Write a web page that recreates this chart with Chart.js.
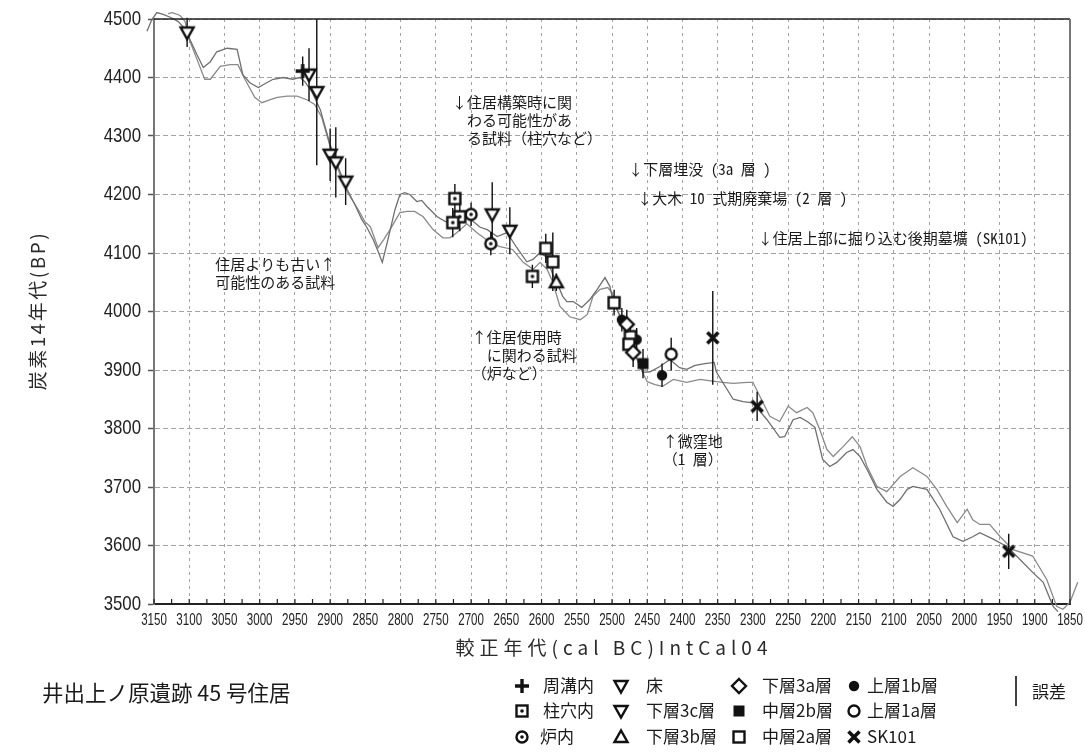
<!DOCTYPE html>
<html>
<head>
<meta charset="utf-8">
<script src="https://cdn.jsdelivr.net/npm/chart.js@4.4.0/dist/chart.umd.min.js"></script>
<style>
  html, body { margin: 0; background: #fff; }
  #wrap { width: 1086px; height: 753px; }
</style>
</head>
<body>
<div id="wrap"><canvas id="chart" width="1086" height="753"></canvas></div>
<script>
// IntCal04 calibration band, two edges as [cal BC, BP]
const curveUpper = [
  [3160,4479],[3153,4499],[3146,4511],[3137,4508],[3127,4503],[3116,4496],[3105,4482],[3099,4465],
  [3089,4439],[3080,4417],[3070,4427],[3061,4444],[3046,4450],[3032,4448],[3024,4405],[3014,4391],
  [3002,4383],[2990,4391],[2981,4397],[2967,4400],[2953,4397],[2943,4400],[2936,4393],[2926,4376],
  [2914,4345],[2900,4285],[2886,4239],[2876,4209],[2865,4183],[2855,4157],[2848,4144],[2839,4123],
  [2832,4103],[2826,4084],[2818,4123],[2808,4174],[2801,4200],[2794,4203],[2787,4200],[2777,4188],
  [2770,4190],[2763,4180],[2748,4162],[2737,4154],[2726,4152],[2716,4157],[2706,4162],[2697,4154],
  [2687,4144],[2677,4140],[2663,4128],[2649,4135],[2635,4109],[2621,4085],[2612,4089],[2602,4101],
  [2592,4092],[2584,4063],[2577,4046],[2570,4026],[2564,4017],[2555,4017],[2543,4007],[2531,4021],
  [2521,4038],[2510,4058],[2503,4043],[2499,4021],[2492,4000],[2482,3978],[2472,3944],[2463,3915],
  [2456,3896],[2446,3897],[2432,3906],[2418,3918],[2404,3904],[2394,3901],[2382,3908],[2368,3911],
  [2355,3913],[2352,3897],[2343,3879],[2328,3850],[2314,3846],[2300,3844],[2280,3815],[2262,3785],
  [2255,3786],[2243,3815],[2233,3819],[2223,3812],[2212,3802],[2201,3747],[2191,3735],[2181,3742],
  [2167,3759],[2158,3764],[2148,3752],[2138,3730],[2124,3696],[2110,3674],[2101,3667],[2091,3679],
  [2081,3696],[2073,3701],[2053,3696],[2035,3662],[2016,3615],[2002,3607],[1988,3615],[1978,3622],
  [1959,3611],[1939,3598],[1921,3576],[1903,3554],[1888,3537],[1874,3496],[1867,3487]
];
const curveLower = [
  [3130,4509],[3124,4511],[3113,4506],[3106,4496],[3099,4462],[3089,4431],[3078,4397],[3070,4397],
  [3056,4419],[3042,4422],[3031,4422],[3021,4397],[3007,4366],[2997,4357],[2985,4362],[2975,4366],
  [2961,4368],[2947,4368],[2933,4362],[2922,4354],[2912,4332],[2900,4282],[2886,4234],[2876,4205],
  [2869,4191],[2860,4174],[2851,4154],[2843,4145],[2832,4109],[2824,4123],[2815,4140],[2801,4169],
  [2791,4171],[2780,4171],[2768,4162],[2754,4140],[2740,4126],[2730,4126],[2720,4135],[2706,4150],
  [2692,4135],[2673,4118],[2659,4111],[2641,4106],[2626,4084],[2612,4072],[2602,4084],[2592,4072],
  [2584,4050],[2574,4009],[2560,3991],[2545,3986],[2535,3995],[2527,4026],[2517,4038],[2506,4041],
  [2500,4032],[2492,4003],[2482,3969],[2470,3935],[2460,3904],[2450,3880],[2439,3875],[2428,3872],
  [2413,3884],[2394,3879],[2375,3884],[2357,3881],[2343,3879],[2328,3877],[2308,3879],[2300,3879],
  [2293,3862],[2276,3821],[2262,3812],[2250,3838],[2238,3827],[2223,3836],[2215,3827],[2205,3798],
  [2195,3764],[2186,3752],[2172,3769],[2159,3786],[2148,3769],[2138,3735],[2124,3701],[2110,3692],
  [2091,3718],[2073,3733],[2053,3718],[2039,3696],[2025,3667],[2010,3639],[1996,3662],[1988,3644],
  [1978,3636],[1964,3636],[1949,3615],[1931,3593],[1903,3582],[1883,3542],[1869,3496],[1860,3491],
  [1850,3503],[1839,3537]
];

// sample categories and their legend symbols
const categories = ['周溝内','柱穴内','炉内','床','下層3c層','下層3b層','下層3a層','中層2b層','中層2a層','上層1b層','上層1a層','SK101'];
const categorySymbol = ['plus','sqdot','cdot','tdown','tdown','tup','diamond','sqfill','sq','disc','ring','cross'];

// dated samples: category, cal BC, 14C BP, error
const sampleCat  = ['床','周溝内','床','床','床','床','床',
                    '柱穴内','柱穴内','柱穴内','炉内','下層3c層','炉内','下層3c層','柱穴内',
                    '中層2a層','中層2a層','下層3b層','中層2a層','上層1b層','下層3a層','中層2a層',
                    '上層1b層','中層2a層','下層3a層','中層2b層','上層1b層','上層1a層',
                    'SK101','SK101','SK101'];
const sampleYear = [3103,2939,2930,2919,2900,2892,2878,
                    2723,2716,2726,2700,2670,2672,2645,2613,
                    2594,2584,2579,2497,2486,2479,2474,
                    2465,2476,2470,2456,2429,2416,
                    2357,2294,1937];
const sampleBP   = [4477,4411,4405,4375,4268,4255,4222,
                    4193,4162,4152,4166,4166,4116,4138,4060,
                    4108,4085,4050,4015,3986,3978,3957,
                    3952,3944,3930,3911,3891,3927,
                    3955,3838,3590];
const sampleErr  = [25,25,45,125,45,60,40,
                    25,25,25,20,55,20,40,20,
                    25,50,15,22,20,25,20,
                    20,20,25,25,20,28,
                    80,25,30];

// text notes placed at [cal BC, BP] of their first line
const notes = [
  { at: [2727, 4357], lines: ['↓住居構築時に関', '　わる可能性があ', '　る試料（柱穴など）'] },
  { at: [2477, 4243], lines: ['↓下層埋没 (3a 層 )'] },
  { at: [2464, 4193], lines: ['↓大木 10 式期廃棄場 (2 層 )'] },
  { at: [2293, 4125], lines: ['↓住居上部に掘り込む後期墓壙 (SK101)'] },
  { at: [3063, 4080], lines: ['住居よりも古い↑', '可能性のある試料'] },
  { at: [2699, 3956], lines: ['↑住居使用時', '　に関わる試料', '（炉など）'] },
  { at: [2428, 3778], lines: ['↑微窪地', '（1 層）'] }
];

const JP = '"Noto Sans CJK JP", "Noto Sans", sans-serif';
const JP_MONO = '"Noto Sans Mono CJK JP", "Noto Sans CJK JP", sans-serif';
const NUM = '"Liberation Sans", Arial, sans-serif';
const INK = '#111';

function makeSymbol(kind) {
  const size = 20, m = size / 2;
  const c = document.createElement('canvas');
  c.width = c.height = size;
  const g = c.getContext('2d');
  g.strokeStyle = INK; g.fillStyle = '#fff'; g.lineWidth = 2.4; g.lineJoin = 'miter';
  const poly = pts => { g.beginPath(); pts.forEach(([x, y], i) => i ? g.lineTo(m + x, m + y) : g.moveTo(m + x, m + y)); g.closePath(); };
  const dot = r => { g.beginPath(); g.arc(m, m, r, 0, Math.PI * 2); g.fillStyle = INK; g.fill(); };
  switch (kind) {
    case 'plus':
      g.lineWidth = 3.4;
      g.beginPath(); g.moveTo(m - 7, m); g.lineTo(m + 7, m); g.moveTo(m, m - 7); g.lineTo(m, m + 7); g.stroke();
      break;
    case 'sqdot':
      g.fillRect(m - 5.5, m - 5.5, 11, 11); g.strokeRect(m - 5.5, m - 5.5, 11, 11); dot(1.8);
      break;
    case 'cdot':
      g.beginPath(); g.arc(m, m, 5.5, 0, Math.PI * 2); g.fill(); g.stroke(); dot(1.8);
      break;
    case 'tdown':
      poly([[-6.5, -5], [6.5, -5], [0, 6.5]]); g.fill(); g.stroke();
      break;
    case 'tup':
      poly([[-6.5, 5], [6.5, 5], [0, -6.5]]); g.fill(); g.stroke();
      break;
    case 'diamond':
      poly([[0, -7], [7, 0], [0, 7], [-7, 0]]); g.fill(); g.stroke();
      break;
    case 'sqfill':
      g.fillStyle = INK; g.fillRect(m - 5.5, m - 5.5, 11, 11);
      break;
    case 'sq':
      g.fillRect(m - 5.5, m - 5.5, 11, 11); g.strokeRect(m - 5.5, m - 5.5, 11, 11);
      break;
    case 'disc':
      dot(5.2);
      break;
    case 'ring':
      g.beginPath(); g.arc(m, m, 5.5, 0, Math.PI * 2); g.fill(); g.stroke();
      break;
    case 'cross':
      g.lineWidth = 3.6;
      g.beginPath(); g.moveTo(m - 5.5, m - 5.5); g.lineTo(m + 5.5, m + 5.5); g.moveTo(m + 5.5, m - 5.5); g.lineTo(m - 5.5, m + 5.5); g.stroke();
      break;
  }
  return c;
}

const symbols = {};
categorySymbol.forEach(k => { if (!symbols[k]) symbols[k] = makeSymbol(k); });

// marker datasets, one per category
const markerSets = categories.map((cat, ci) => ({
  label: cat,
  data: sampleCat.map((c, i) => c === cat ? { x: sampleYear[i], y: sampleBP[i] } : null).filter(Boolean),
  pointStyle: symbols[categorySymbol[ci]],
  pointRadius: 6,
  showLine: false,
  clip: false,
  order: 0
}));

// vertical error bars, broken apart by null points
const barPoints = [];
sampleYear.forEach((yr, i) => {
  barPoints.push({ x: yr, y: sampleBP[i] + sampleErr[i] }, { x: yr, y: sampleBP[i] - sampleErr[i] }, { x: yr, y: null });
});

const datasets = [
  ...markerSets,
  { label: '誤差', data: barPoints, showLine: true, spanGaps: false, pointRadius: 0,
    borderColor: INK, borderWidth: 1.4, clip: false, order: 1 },
  { label: 'IntCal04 a', data: curveUpper.map(([x, y]) => ({ x, y })), showLine: true, pointRadius: 0,
    borderColor: '#6f6f6f', borderWidth: 1.3, tension: 0, clip: 10, order: 2 },
  { label: 'IntCal04 b', data: curveLower.map(([x, y]) => ({ x, y })), showLine: true, pointRadius: 0,
    borderColor: '#8a8a8a', borderWidth: 1.3, tension: 0, clip: 10, order: 2 }
];

// draws text squeezed horizontally (the axis numerals are a narrow face)
function narrowText(ctx, text, x, y, sx, align) {
  ctx.save();
  ctx.translate(x, y);
  ctx.scale(sx, 1);
  ctx.textAlign = align;
  ctx.fillText(text, 0, 0);
  ctx.restore();
}

// box, inner minor ticks, numerals and axis titles
const axisDecor = {
  id: 'axisDecor',
  afterDatasetsDraw(chart) {
    const { ctx, chartArea: a, scales: { x, y } } = chart;
    ctx.save();
    ctx.strokeStyle = '#222'; ctx.lineWidth = 1.6;
    ctx.beginPath(); ctx.moveTo(a.left, a.top); ctx.lineTo(a.right, a.top); ctx.stroke();
    ctx.strokeStyle = '#777'; ctx.lineWidth = 2;
    ctx.beginPath(); ctx.moveTo(a.right, a.top); ctx.lineTo(a.right, a.bottom); ctx.stroke();
    ctx.strokeStyle = '#222'; ctx.lineWidth = 1.2;
    ctx.beginPath();
    for (let v = 1850; v <= 3150; v += 25) {
      const px = x.getPixelForValue(v);
      ctx.moveTo(px, a.bottom); ctx.lineTo(px, a.bottom - 5);
    }
    ctx.stroke();

    ctx.fillStyle = '#222'; ctx.textBaseline = 'middle';
    ctx.font = '17px ' + NUM;
    x.ticks.forEach((t, i) => narrowText(ctx, String(t.value), x.getPixelForTick(i), a.bottom + 16, 0.68, 'center'));
    ctx.font = '21px ' + NUM;
    y.ticks.forEach((t, i) => narrowText(ctx, String(t.value), 141, y.getPixelForTick(i), 0.8, 'right'));

    ctx.fillStyle = '#2a2a2a';
    ctx.font = '19px ' + JP;
    ctx.letterSpacing = '5px';
    ctx.textAlign = 'center';
    ctx.fillText('較正年代(cal BC)IntCal04', (a.left + a.right) / 2 + 2, 648);
    ctx.letterSpacing = '2.5px';
    ctx.translate(38, (a.top + a.bottom) / 2);
    ctx.rotate(-Math.PI / 2);
    ctx.fillText('炭素14年代(BP)', 1, 0);
    ctx.restore();
  }
};

const noteText = {
  id: 'noteText',
  afterDatasetsDraw(chart) {
    const { ctx, scales: { x, y } } = chart;
    ctx.save();
    ctx.font = '15px ' + JP_MONO; ctx.fillStyle = '#1a1a1a'; ctx.textBaseline = 'middle'; ctx.textAlign = 'left';
    notes.forEach(n => {
      const px = x.getPixelForValue(n.at[0]), py = y.getPixelForValue(n.at[1]);
      n.lines.forEach((t, i) => ctx.fillText(t, px, py + i * 18));
    });
    ctx.restore();
  }
};

// site caption and the three-row legend under the axis
const footer = {
  id: 'footer',
  afterDraw(chart) {
    const { ctx } = chart;
    ctx.save();
    ctx.fillStyle = '#1a1a1a'; ctx.textBaseline = 'middle'; ctx.textAlign = 'left';
    ctx.font = '21.5px ' + JP;
    ctx.fillText('井出上ノ原遺跡 45 号住居', 42, 693);
    const rowY = [686, 711, 737];
    const colSym = [522, 621, 739, 854];
    const colTxt = [543, 646, 762, 867];
    ctx.font = '17px ' + JP;
    categories.forEach((cat, i) => {
      const col = Math.floor(i / 3), row = i % 3;
      const s = symbols[categorySymbol[i]];
      ctx.drawImage(s, colSym[col] - s.width / 2, rowY[row] - s.height / 2);
      ctx.fillText(cat, colTxt[col] - (cat === '炉内' ? 3 : 0), rowY[row]);
    });
    ctx.strokeStyle = INK; ctx.lineWidth = 1.6;
    ctx.beginPath(); ctx.moveTo(1016, 676); ctx.lineTo(1016, 706); ctx.stroke();
    ctx.fillText('誤差', 1032, 692);
    ctx.restore();
  }
};

new Chart(document.getElementById('chart'), {
  type: 'scatter',
  data: { datasets },
  options: {
    responsive: false,
    animation: false,
    events: [],
    layout: { padding: { left: 0, right: 16, top: 19, bottom: 89 } },
    plugins: { legend: { display: false }, tooltip: { enabled: false } },
    scales: {
      x: {
        type: 'linear', reverse: true, min: 1850, max: 3150,
        afterFit: s => { s.height = 60; },
        ticks: { stepSize: 50, autoSkip: false, maxRotation: 0, display: false },
        grid: { color: '#a3a3a3', lineWidth: 1, drawTicks: false },
        border: { color: '#222', width: 2, dash: [3, 4] }
      },
      y: {
        min: 3500, max: 4500,
        afterFit: s => { s.width = 154; },
        ticks: { stepSize: 100, display: false },
        grid: { color: '#a3a3a3', lineWidth: 1, tickLength: 6, tickColor: '#555', tickWidth: 1.5 },
        border: { color: '#777', width: 2, dash: [5, 3] }
      }
    }
  },
  plugins: [axisDecor, noteText, footer]
});
</script>
</body>
</html>
